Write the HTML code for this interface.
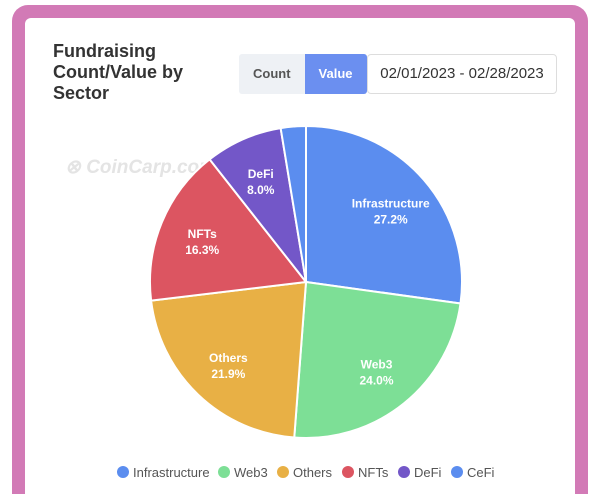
<!DOCTYPE html>
<html style="height:494px;overflow:hidden"><head><meta charset="utf-8"><style>
body{margin:0;width:600px;height:494px;overflow:hidden;background:#fff;font-family:"Liberation Sans",sans-serif;position:relative}
#frame{position:absolute;left:12px;top:5px;width:576px;height:489px;background:#d27ab6;border-radius:16px 16px 0 0}
#card{position:absolute;left:25px;top:18px;width:550px;height:476px;background:#fff;border-radius:6px 6px 0 0}
#title{position:absolute;left:53px;top:41px;font-size:18px;font-weight:bold;color:#333;line-height:21px}
#toggle{position:absolute;left:239px;top:54px;height:40px;display:flex;border-radius:3px;overflow:hidden;font-size:13px;font-weight:bold}
#toggle div{padding:0 14px;line-height:40px}
#date{position:absolute;left:367px;top:54px;width:188px;height:38px;border:1px solid #ddd;border-radius:4px;font-size:15px;line-height:38px;text-align:center;color:#333}
#wm{position:absolute;left:65px;top:156px;font-size:19px;font-weight:bold;font-style:italic;color:#e4e4e4}
svg{position:absolute;left:0;top:0}
</style></head><body>
<div id="frame"></div>
<div id="card"></div>
<div id="title">Fundraising<br>Count/Value by<br>Sector</div>
<div id="toggle">
<div style="background:#eef1f5;color:#555">Count</div>
<div style="background:#6b8ff0;color:#fff">Value</div></div>
<div id="date">02/01/2023 - 02/28/2023</div>
<div id="wm">⊗ CoinCarp.com</div>
<svg id="chart" width="600" height="494"></svg>
<script>
const categories=["Infrastructure","Web3","Others","NFTs","DeFi","CeFi"];
const values=[27.2,24.0,21.9,16.3,8.0,2.6];
const colors=["#5b8def","#7ddf96","#e8b045","#dc5561","#7357c8","#5b8def"];
const ns="http://www.w3.org/2000/svg",svg=document.getElementById('chart');
const cx=306,cy=282,r=156,total=values.reduce((a,b)=>a+b,0);
function pt(a,rr){return [cx+rr*Math.sin(a),cy-rr*Math.cos(a)];}
let a0=0;
values.forEach((v,i)=>{
 const a1=a0+v/total*2*Math.PI;const p0=pt(a0,r),p1=pt(a1,r);
 const p=document.createElementNS(ns,'path');
 p.setAttribute('d',`M${cx},${cy}L${p0[0]},${p0[1]}A${r},${r} 0 ${a1-a0>Math.PI?1:0} 1 ${p1[0]},${p1[1]}Z`);
 p.setAttribute('fill',colors[i]);p.setAttribute('stroke','#fff');p.setAttribute('stroke-width','2');
 
 
 svg.appendChild(p);
 if(v>5){const m=(a0+a1)/2,lp=pt(m,r*0.72);
  [categories[i],v.toFixed(1)+'%'].forEach((s,k)=>{const t=document.createElementNS(ns,'text');
   t.setAttribute('x',lp[0]);t.setAttribute('y',lp[1]+(k?15:-1));t.setAttribute('text-anchor','middle');
   t.setAttribute('fill','#fff');t.setAttribute('font-size','12');t.setAttribute('font-weight','bold');t.textContent=s;
   
   
   svg.appendChild(t);});}
 a0=a1;});
const lx=[117,218,277,342,398,451];
categories.forEach((c,i)=>{
 const g=document.createElementNS(ns,'g');
 
 
 g.innerHTML=`<circle cx="${lx[i]+6}" cy="472" r="6" fill="${colors[i]}"/><text x="${lx[i]+16}" y="477" font-size="13" fill="#555">${c}</text>`;
 svg.appendChild(g);});
</script>
</body></html>
